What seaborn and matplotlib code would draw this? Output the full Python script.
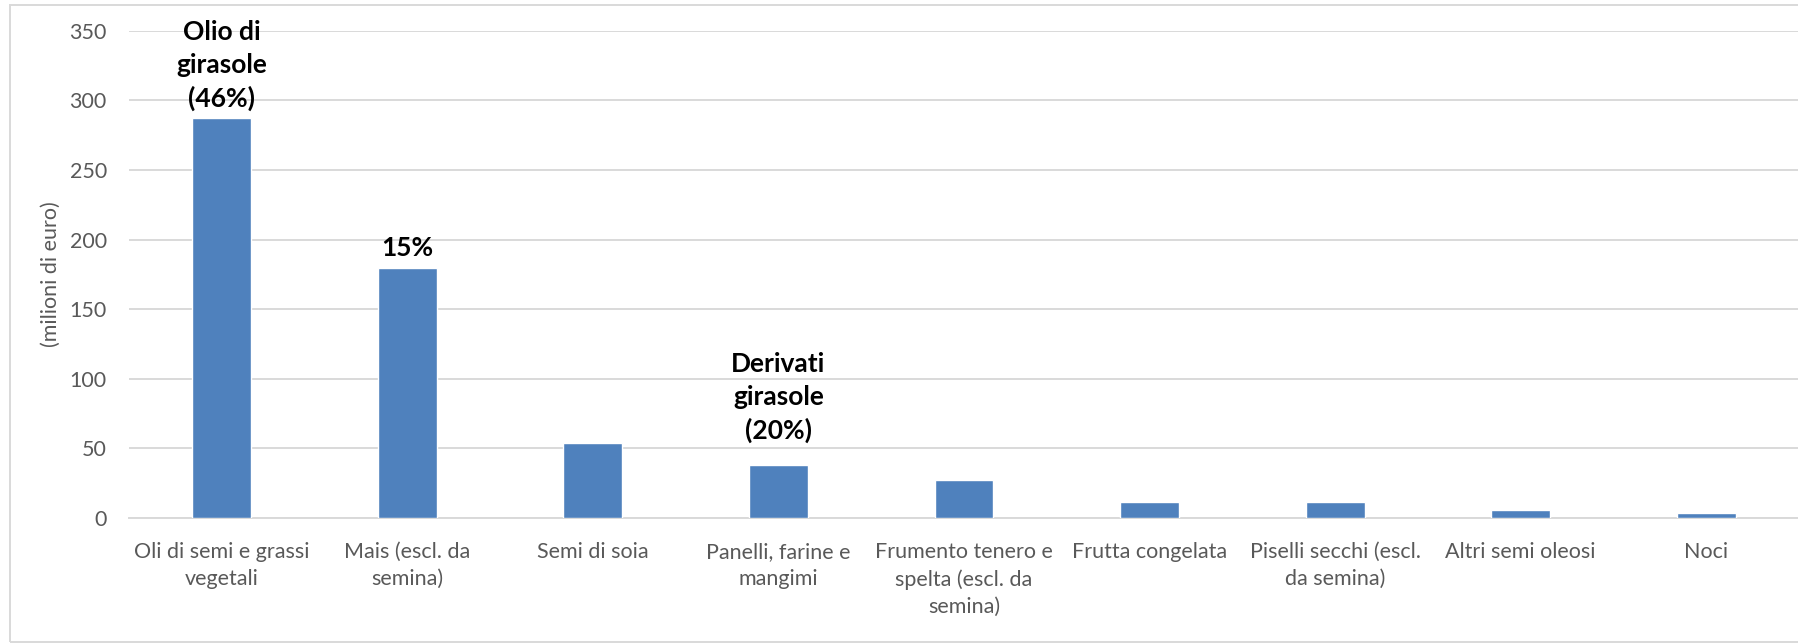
import matplotlib
matplotlib.use("Agg")
import matplotlib.pyplot as plt
import seaborn as sns
import pandas as pd
from matplotlib.patches import Rectangle

# categorie e valori (milioni di euro)
categorie = [
    "Oli di semi e grassi\nvegetali",
    "Mais (escl. da\nsemina)",
    "Semi di soia",
    "Panelli, farine e\nmangimi",
    "Frumento tenero e\nspelta (escl. da\nsemina)",
    "Frutta congelata",
    "Piselli secchi (escl.\nda semina)",
    "Altri semi oleosi",
    "Noci",
]
valori = [287.5, 179.5, 54, 38, 27.5, 11.3, 11.3, 5.5, 3.4]

# etichette in grassetto sopra alcune barre
etichette_idx = [0, 1, 3]
etichette_txt = ["Olio di\ngirasole\n(46%)", "15%", "Derivati\ngirasole\n(20%)"]
etichette_off = [5, 6, 16]  # distanza dalla barra, in punti

df = pd.DataFrame({"categoria": categorie, "valore": valori})

sns.set_style("white")
plt.rcParams["font.family"] = ["Lato", "DejaVu Sans"]

fig = plt.figure(figsize=(17.99, 6.43), dpi=100)
ax = fig.add_axes([0.0717, 0.1944, 0.9283, 0.7578])

sns.barplot(data=df, x="categoria", y="valore", color="#4f81bd",
            width=0.317, saturation=1, ax=ax, zorder=3)

ax.set_ylim(0, 350)
ax.set_yticks(range(0, 351, 50))
ax.set_xlim(-0.5, len(categorie) - 0.5)
ax.yaxis.grid(True, color="#d9d9d9", linewidth=1.4, zorder=0)
ax.set_axisbelow(True)
for s in ["left", "right", "top"]:
    ax.spines[s].set_visible(False)
ax.spines["bottom"].set_color("#d9d9d9")
ax.spines["bottom"].set_linewidth(1.4)

ax.tick_params(axis="both", length=0, labelsize=15.5, labelcolor="#595959")
ax.tick_params(axis="x", pad=17)
ax.tick_params(axis="y", pad=16)
for lab in ax.get_xticklabels():
    lab.set_linespacing(1.45)
ax.set_xlabel("")
ax.set_ylabel("(milioni di euro)", fontsize=15.5, color="#595959", labelpad=6)

for i, txt, off in zip(etichette_idx, etichette_txt, etichette_off):
    ax.annotate(txt, xy=(i, valori[i]), xytext=(0, off), textcoords="offset points",
                ha="center", va="bottom", fontsize=19, fontweight="bold",
                color="black", linespacing=1.42)

# cornice esterna
fig.patches.append(Rectangle((0.0056, 0.0016), 1.0, 0.9906, transform=fig.transFigure,
                             fill=False, edgecolor="#d9d9d9", linewidth=1.4))

fig.savefig("out.png", dpi=100)
